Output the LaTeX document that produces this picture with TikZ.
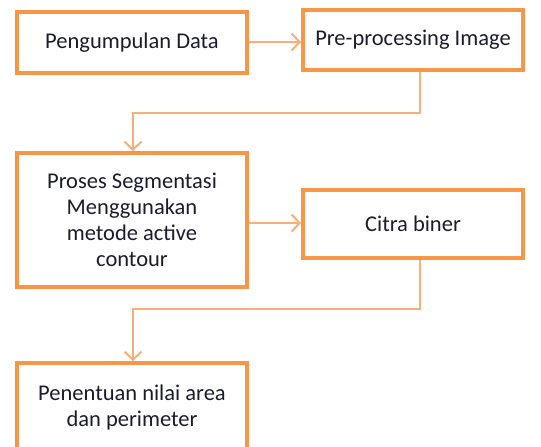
\documentclass[tikz,border=0pt]{standalone}
\usepackage{fontspec}
\setmainfont{Carlito}
\usetikzlibrary{arrows.meta,positioning}
\definecolor{Oranye}{HTML}{F79646}
\definecolor{OranyeMuda}{HTML}{F9AE78}
\definecolor{Tinta}{HTML}{1C1C2E}

\begin{document}
\begin{tikzpicture}[
  x=1pt,y=-1pt,
  every node/.style={font=\fontsize{22.5}{26}\selectfont,text=Tinta},
  prosesbox/.style={draw=Oranye,line width=4pt,fill=white,align=center,minimum width=230pt,inner sep=0pt},
  arr/.style={-{Straight Barb[length=8pt,width=17pt]},line width=2pt,color=OranyeMuda}
]
\useasboundingbox (0,0) rectangle (541,447);
\node[prosesbox,minimum height=61pt] (data) at (132,42.5) {Pengumpulan Data};
\node[prosesbox,minimum width=220pt,minimum height=60pt] (prepro) at (413,40) {Pre-processing Image};
\node[prosesbox,minimum height=134pt] (segmen) at (132,220) {Proses Segmentasi\\Menggunakan\\metode active\\contour};
\node[prosesbox,minimum width=220pt,minimum height=68pt] (biner) at (413,224) {Citra biner};
\node[prosesbox,minimum height=88pt] (hasil) at (132,407) {Penentuan nilai area\\dan perimeter};
\draw[arr] (data.east |- 0,42) -- (prepro.west |- 0,42);
\draw[arr] (prepro.south -| 420,0) -- (420,113) -- (133,113) -- (segmen.north -| 133,0);
\draw[arr] (segmen.east |- 0,223) -- (biner.west |- 0,223);
\draw[arr] (biner.south -| 420,0) -- (420,309) -- (133,309) -- (hasil.north -| 133,0);
\end{tikzpicture}
\end{document}
